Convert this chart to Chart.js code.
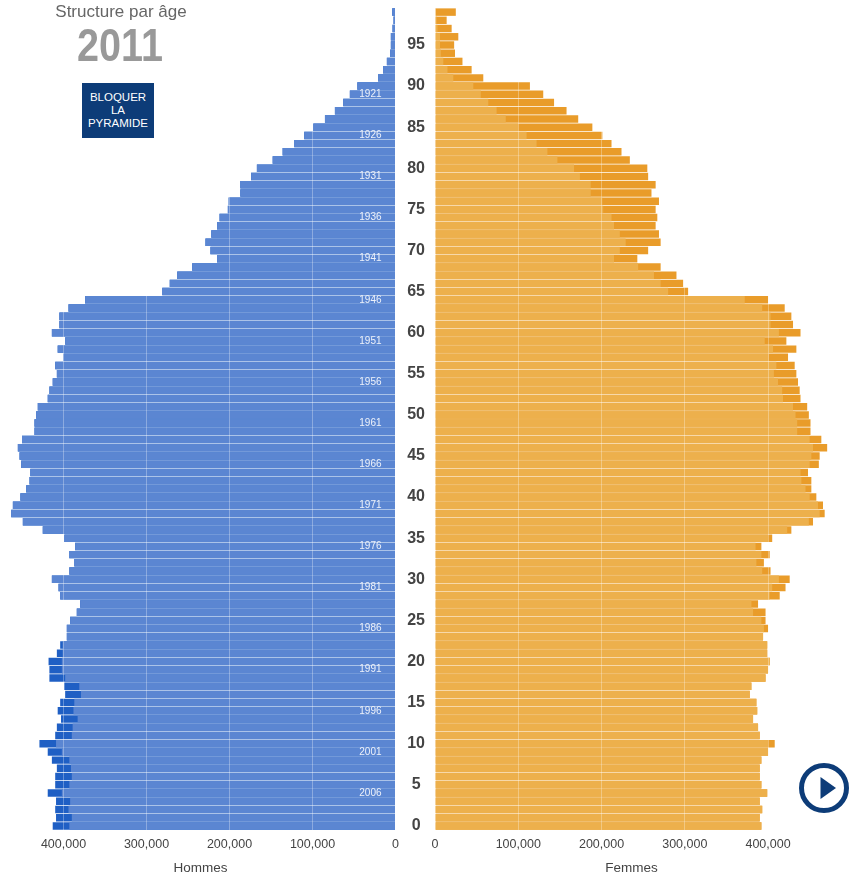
<!DOCTYPE html>
<html lang="fr">
<head>
<meta charset="utf-8">
<title>Structure par âge</title>
<script src="https://cdn.jsdelivr.net/npm/chart.js@4"></script>
<style>
  html, body { margin: 0; padding: 0; background: #fff; overflow: hidden; }
  body { position: relative; width: 849px; height: 878px; font-family: "Liberation Sans", Arial, sans-serif; }
  canvas { position: absolute; top: 0; filter: blur(0.5px); }
  #chartHommes { left: 0; }
  #chartFemmes { left: 396px; }
  .title { position: absolute; left: 21px; top: 2px; width: 200px; text-align: center; font-size: 17px; line-height: 20px; color: #666; }
  .year { position: absolute; left: 20px; top: 19px; width: 200px; text-align: center; font-size: 46px; line-height: 52px; font-weight: bold; color: #999; transform: scaleX(0.86); }
  .lock { position: absolute; left: 82px; top: 83px; width: 72px; height: 55px; padding-top: 8px; box-sizing: border-box; background: #0d3c78; color: #fff; text-align: center; font-size: 11.5px; line-height: 13px; }
  .play { position: absolute; left: 799px; top: 763px; }
</style>
</head>
<body>
<canvas id="chartHommes" width="415" height="878"></canvas>
<canvas id="chartFemmes" width="453" height="878"></canvas>
<div class="title">Structure par âge</div>
<div class="year">2011</div>
<div class="lock">BLOQUER<br>LA<br>PYRAMIDE</div>
<svg class="play" width="50" height="50" viewBox="0 0 50 50">
  <circle cx="25" cy="25" r="22.5" fill="none" stroke="#0d3c78" stroke-width="5"></circle>
  <polygon points="21.5,14 21.5,36 37,25" fill="#0d3c78"></polygon>
</svg>
<script>
// values go from age 0 to age 99
var ages = [];
for (var a = 0; a < 100; a++) { ages.push(a); }

var ageTicks = [0, 5, 10, 15, 20, 25, 30, 35, 40, 45, 50, 55, 60, 65, 70, 75, 80, 85, 90, 95];
var yearTicks = [1921, 1926, 1931, 1936, 1941, 1946, 1951, 1956, 1961, 1966, 1971, 1976, 1981, 1986, 1991, 1996, 2001, 2006];
var axisTicks = [0, 100000, 200000, 300000, 400000];

var hommesClair = [
  393000, 390000, 394000, 392000, 402000, 393000, 390000, 391000, 393000, 402000,
  409000, 390000, 389000, 383000, 388000, 387000, 379000, 381000, 398000, 402000,
  402000, 401000, 401000, 396000, 396000, 392000, 384000, 380000, 404000, 406000,
  414000, 393000, 387000, 393000, 386000, 399000, 425000, 449000, 463000, 461000,
  452000, 445000, 441000, 440000, 451000, 453000, 455000, 450000, 435000, 435000,
  433000, 431000, 419000, 417000, 413000, 408000, 410000, 400000, 407000, 398000,
  414000, 405000, 405000, 394000, 374000, 281000, 272000, 263000, 245000, 215000,
  223000, 229000, 222000, 215000, 212000, 202000, 201000, 187000, 187000, 174000,
  167000, 148000, 136000, 122000, 110000, 99000, 85000, 73000, 63000, 55000,
  46000, 21000, 15000, 10400, 6400, 5600, 5600, 3600, 2400, 4000
];
var hommesFonce = [
  413000, 409000, 410000, 409000, 419000, 410000, 410000, 408000, 414000, 419000,
  429000, 410000, 408000, 403000, 407000, 404000, 398000, 399000, 417000, 417000,
  418000, 408000, 404000, 396000, 396000, 392000, 384000, 380000, 404000, 406000,
  414000, 393000, 387000, 393000, 386000, 399000, 425000, 449000, 463000, 461000,
  452000, 445000, 441000, 440000, 451000, 453000, 455000, 450000, 435000, 435000,
  433000, 431000, 419000, 417000, 413000, 408000, 410000, 400000, 407000, 398000,
  414000, 405000, 405000, 394000, 374000, 281000, 272000, 263000, 245000, 215000,
  223000, 229000, 222000, 215000, 212000, 202000, 201000, 187000, 187000, 174000,
  167000, 148000, 136000, 122000, 110000, 99000, 85000, 73000, 63000, 55000,
  46000, 21000, 15000, 10400, 6400, 5600, 5600, 3600, 2400, 4000
];
var femmesClair = [
  392000, 390000, 393000, 390000, 399000, 392000, 390000, 390000, 392000, 400000,
  400000, 390000, 388000, 382000, 387000, 386000, 378000, 380000, 397000, 400000,
  402000, 399000, 399000, 394000, 395000, 392000, 382000, 380000, 402000, 405000,
  413000, 393000, 386000, 392000, 385000, 400000, 423000, 449000, 462000, 460000,
  450000, 445000, 440000, 439000, 450000, 452000, 454000, 450000, 435000, 435000,
  433000, 430000, 418000, 417000, 412000, 407000, 410000, 401000, 406000, 396000,
  413000, 403000, 403000, 393000, 372000, 280000, 271000, 263000, 244000, 215000,
  222000, 229000, 222000, 215000, 212000, 202000, 201000, 187000, 187000, 174000,
  167000, 147000, 135000, 122000, 110000, 100000, 85000, 74000, 64000, 55000,
  46000, 22000, 15000, 10000, 7000, 6000, 6000, 3000, 2000, 1000
];
var femmesFonce = [
  392000, 390000, 393000, 390000, 399000, 392000, 390000, 390000, 392000, 400000,
  408000, 390000, 388000, 382000, 387000, 386000, 378000, 380000, 397000, 400000,
  402000, 399000, 399000, 394000, 400000, 397000, 397000, 388000, 414000, 421000,
  426000, 403000, 395000, 402000, 392000, 405000, 428000, 454000, 468000, 466000,
  458000, 452000, 452000, 448000, 461000, 462000, 471000, 464000, 451000, 451000,
  449000, 447000, 439000, 438000, 436000, 434000, 432000, 424000, 434000, 422000,
  439000, 430000, 428000, 420000, 400000, 304000, 298000, 290000, 271000, 243000,
  256000, 271000, 269000, 265000, 267000, 265000, 269000, 260000, 265000, 256000,
  255000, 234000, 224000, 212000, 201000, 189000, 172000, 158000, 143000, 130000,
  114000, 58000, 44000, 33000, 24000, 23000, 28000, 20000, 14000, 25000
];

var pyramide = (function () {
  'use strict';

  var labelFont = 'Liberation Sans';

  function xAxis (title, max, reverse) {
    return {
      type: 'linear',
      min: 0,
      max: max,
      reverse: reverse,
      border: { display: false },
      grid: { color: 'rgba(255,255,255,0.3)', z: 1, drawTicks: false },
      // the library rounds the step when max is not a whole number of steps
      afterBuildTicks: function (scale) {
        scale.ticks = axisTicks.map(function (v) { return { value: v }; });
      },
      ticks: {
        maxRotation: 0,
        autoSkip: false,
        padding: 7,
        color: '#444',
        font: { family: labelFont, size: 12.5 },
        callback: function (value) { return value.toLocaleString('en-US'); }
      },
      title: {
        display: true,
        text: title,
        color: '#444',
        font: { family: labelFont, size: 13.5 },
        padding: { top: 0, bottom: 2 }
      },
      afterFit: function (scale) { scale.height = 48; }
    };
  }

  function barData (label, light, dark, lightColor, darkColor) {
    return {
      labels: ages,
      datasets: [
        { label: label, data: light, backgroundColor: lightColor, grouped: false, barPercentage: 0.91, categoryPercentage: 1 },
        { label: label, data: dark, backgroundColor: darkColor, grouped: false, barPercentage: 0.91, categoryPercentage: 1 }
      ]
    };
  }

  function baseOptions (padding, scales) {
    return {
      responsive: false,
      animation: false,
      indexAxis: 'y',
      layout: { padding: padding, autoPadding: false },
      plugins: { legend: { display: false } },
      scales: scales
    };
  }

  function drawHommes () {
    var ctx = document.getElementById('chartHommes');
    new Chart(ctx, {
      type: 'bar',
      data: barData('Hommes', hommesClair, hommesFonce, '#5b86d2', '#1f5fc4'),
      options: baseOptions({ top: 8, left: 5.4, right: 19.5, bottom: 0 }, {
        x: xAxis('Hommes', 470000, true),
        y: {
          position: 'right',
          reverse: true,
          border: { display: false },
          grid: { display: false },
          afterFit: function (scale) {
            scale.width = 0;
            scale.paddingTop = 0;
            scale.paddingBottom = 0;
          },
          ticks: {
            mirror: true,
            autoSkip: false,
            padding: -14,
            z: 1,
            color: '#eef2fa',
            font: { family: labelFont, size: 10 },
            callback: function (value) {
              var year = 2010 - ages[value];
              return yearTicks.indexOf(year) === -1 ? '' : String(year);
            }
          }
        }
      })
    });
  }

  function drawFemmes () {
    var ctx = document.getElementById('chartFemmes');
    new Chart(ctx, {
      type: 'bar',
      data: barData('Femmes', femmesClair, femmesFonce, '#edb04c', '#e99c2a'),
      options: baseOptions({ top: 8, left: 0, right: 21, bottom: 0 }, {
        x: xAxis('Femmes', 472000, false),
        y: {
          position: 'left',
          reverse: true,
          border: { display: false },
          grid: { display: false, drawTicks: false },
          afterFit: function (scale) {
            scale.width = 39;
            scale.paddingTop = 0;
            scale.paddingBottom = 0;
          },
          ticks: {
            autoSkip: false,
            crossAlign: 'center',
            padding: 10,
            color: '#444',
            font: { family: labelFont, size: 16, weight: 'bold' },
            callback: function (value) {
              return ageTicks.indexOf(ages[value]) === -1 ? '' : String(ages[value]);
            }
          }
        }
      })
    });
  }

  function init () {
    drawHommes();
    drawFemmes();
  }

  return {
    init: init
  };
}());

pyramide.init();
</script>
</body>
</html>
